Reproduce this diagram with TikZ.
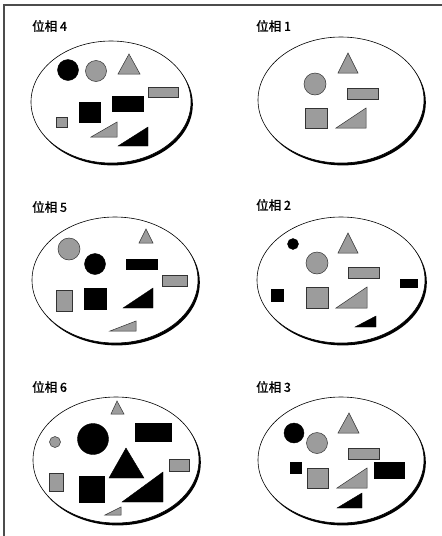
\documentclass[tikz,border=0pt]{standalone}
\usepackage{fontspec}
\newfontfamily\cjk{Noto Sans CJK SC}[FakeBold=1.5]
\newcommand\myoval[4]{%
  \fill[black] (#1+1.8,#2+2.4) ellipse [x radius=#3pt, y radius=#4pt];
  \filldraw[fill=white,draw=black,line width=0.6pt] (#1,#2) ellipse [x radius=#3pt, y radius=#4pt];}
\begin{document}
\begin{tikzpicture}[x=1pt,y=-1pt,
  gr/.style={fill=gray!78,draw=gray!40!black,line width=0.5pt},
  bk/.style={fill=black,draw=black,line width=0.4pt},
  lbl/.style={anchor=west,inner sep=0pt,font=\cjk\fontsize{12.5}{13}\selectfont}]
\useasboundingbox (0,0) rectangle (442,536);
\fill[white] (0,0) rectangle (442,536);
\draw[gray!60!black, line width=1.2pt] (4,536) -- (4,5) -- (442,5);

% ---------- Panel 4 ----------
\node[lbl] (l4) at (32,26) {位相 4};
\myoval{111}{102}{80}{61}
\path[bk] (68,70) circle[radius=10.5pt];
\path[gr] (96,71) circle[radius=10.5pt];
\path[gr] (118,74) -- (129,54) -- (140,74) -- cycle;
\path[gr] (148,87) rectangle (178,97);
\path[bk] (112,96) rectangle (143,111);
\path[bk] (79,102) rectangle (100,122);
\path[gr] (56,117) rectangle (67,127);
\path[gr] (91,137) -- (117,137) -- (117,122) -- cycle;
\path[bk] (118,146) -- (148,146) -- (148,127) -- cycle;

% ---------- Panel 1 ----------
\node[lbl] (l1) at (256,26) {位相 1};
\myoval{341}{100}{83}{63}
\path[gr] (338,73) -- (348,53) -- (358,73) -- cycle;
\path[gr] (315,84) circle[radius=11pt];
\path[gr] (347,88) rectangle (378,99);
\path[gr] (305,108) rectangle (327,128);
\path[gr] (336,128) -- (366,128) -- (366,108) -- cycle;

% ---------- Panel 5 ----------
\node[lbl] (l5) at (32,207) {位相 5};
\myoval{115}{280}{83}{63}
\path[gr] (69,249) circle[radius=11pt];
\path[gr] (139,243) -- (146,229) -- (153,243) -- cycle;
\path[bk] (95,264) circle[radius=10.5pt];
\path[bk] (126,259) rectangle (157,269);
\path[gr] (162,275) rectangle (187,286);
\path[gr] (56,290) rectangle (72,311);
\path[bk] (84,288) rectangle (106,309);
\path[bk] (123,308) -- (153,308) -- (153,288) -- cycle;
\path[gr] (110,331) -- (136,331) -- (136,321) -- cycle;

% ---------- Panel 2 ----------
\node[lbl] (l2) at (256,205) {位相 2};
\myoval{341}{280}{84}{63}
\path[bk] (293,244) circle[radius=5.5pt];
\path[gr] (338,253) -- (348,233) -- (358,253) -- cycle;
\path[gr] (317,263) circle[radius=11pt];
\path[gr] (348,267) rectangle (379,278);
\path[bk] (400,279) rectangle (417,287);
\path[bk] (271,289) rectangle (283,301);
\path[gr] (306,287) rectangle (328,308);
\path[gr] (336,308) -- (367,308) -- (367,287) -- cycle;
\path[bk] (355,327) -- (376,327) -- (376,316) -- cycle;

% ---------- Panel 6 ----------
\node[lbl] (l6) at (32,387) {位相 6};
\myoval{116}{460}{83}{63}
\path[gr] (111,414) -- (117,401) -- (124,414) -- cycle;
\path[gr] (55,442) circle[radius=5.5pt];
\path[bk] (93,439) circle[radius=15.5pt];
\path[bk] (135,423) rectangle (171,441);
\path[bk] (109,478) -- (126,448) -- (144,478) -- cycle;
\path[gr] (169,459) rectangle (189,471);
\path[gr] (49,473) rectangle (63,491);
\path[bk] (79,476) rectangle (104,502);
\path[bk] (122,502) -- (163,502) -- (163,472) -- cycle;
\path[gr] (105,515) -- (121,515) -- (121,507) -- cycle;

% ---------- Panel 3 ----------
\node[lbl] (l3) at (256,387) {位相 3};
\myoval{341}{460}{83}{63}
\path[bk] (294,433) circle[radius=10pt];
\path[gr] (338,433) -- (349,413) -- (359,433) -- cycle;
\path[gr] (317,443) circle[radius=10.5pt];
\path[gr] (348,448) rectangle (379,459);
\path[bk] (290,462) rectangle (301,473);
\path[bk] (374,462) rectangle (404,478);
\path[gr] (307,468) rectangle (328,488);
\path[gr] (337,488) -- (367,488) -- (367,468) -- cycle;
\path[bk] (337,508) -- (362,508) -- (362,493) -- cycle;
\end{tikzpicture}
\end{document}
